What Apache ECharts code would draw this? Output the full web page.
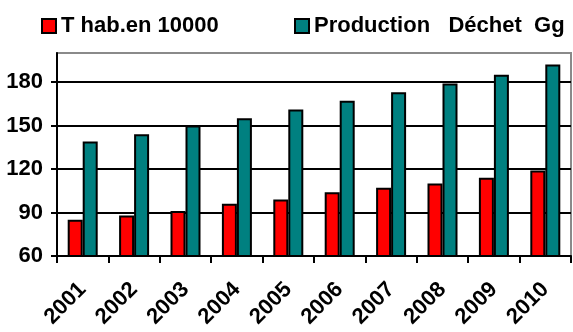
<!DOCTYPE html>
<html>
<head>
<meta charset="utf-8">
<script src="https://cdn.jsdelivr.net/npm/echarts@6/dist/echarts.min.js"></script>
<style>
  html, body { margin: 0; padding: 0; background: #fff; }
  #chart { width: 573px; height: 332px; }
</style>
</head>
<body>
<div id="chart"></div>
<script>
// Years on the category axis
const years = ['2001', '2002', '2003', '2004', '2005', '2006', '2007', '2008', '2009', '2010'];
// Inhabitants (tens of thousands)
const habitants = [85, 88, 91, 96, 99, 104, 107, 110, 114, 119];
// Waste production (Gg)
const dechets = [139, 144, 150, 155, 161, 167, 173, 179, 185, 192];
// Series names shown in the legend
const seriesNames = ['T hab.en 10000', 'Production   Déchet  Gg'];

const FONT = '"Liberation Sans", Arial, sans-serif';

const chart = echarts.init(document.getElementById('chart'), null, { renderer: 'canvas' });

function legendAt(left, name) {
  return {
    top: 10,
    left: left,
    width: 400,
    itemWidth: 14,
    itemHeight: 14,
    itemGap: 0,
    icon: 'rect',
    itemStyle: { borderColor: '#000', borderWidth: 2 },
    textStyle: { fontFamily: FONT, fontWeight: 'bold', fontSize: 22, color: '#000' },
    data: [name]
  };
}

chart.setOption({
  animation: false,
  backgroundColor: '#fff',
  legend: [legendAt(36, seriesNames[0]), legendAt(289, seriesNames[1])],
  grid: {
    left: 57, right: 2, top: 53, bottom: 76,
    show: true,
    borderColor: '#8a8a8a',
    borderWidth: 2,
    backgroundColor: 'transparent'
  },
  xAxis: {
    type: 'category',
    data: years,
    axisLine: { lineStyle: { color: '#000', width: 2 } },
    axisTick: { show: true, length: 7, lineStyle: { color: '#000', width: 2 } },
    axisLabel: {
      rotate: 45,
      margin: 30,
      fontFamily: FONT,
      fontWeight: 'bold',
      fontSize: 22,
      color: '#000'
    }
  },
  yAxis: {
    type: 'value',
    min: 60,
    max: 200,
    interval: 30,
    axisLine: { show: true, lineStyle: { color: '#000', width: 2 } },
    axisTick: { show: true, length: 6, lineStyle: { color: '#000', width: 2 } },
    axisLabel: {
      showMaxLabel: false,
      margin: 14,
      fontFamily: FONT,
      fontWeight: 'bold',
      fontSize: 22,
      color: '#000'
    },
    splitLine: {
      show: true,
      lineStyle: { color: ['#000', '#000', '#000', '#000', '#000', '#8a8a8a'], width: 2 }
    }
  },
  series: [
    {
      name: seriesNames[0],
      type: 'bar',
      data: habitants,
      barWidth: 15,
      barGap: '0%',
      itemStyle: { color: '#ff0000', borderColor: '#000', borderWidth: 2 }
    },
    {
      name: seriesNames[1],
      type: 'bar',
      data: dechets,
      barWidth: 15,
      barGap: '0%',
      itemStyle: { color: '#008080', borderColor: '#000', borderWidth: 2 }
    }
  ]
});
</script>
</body>
</html>
